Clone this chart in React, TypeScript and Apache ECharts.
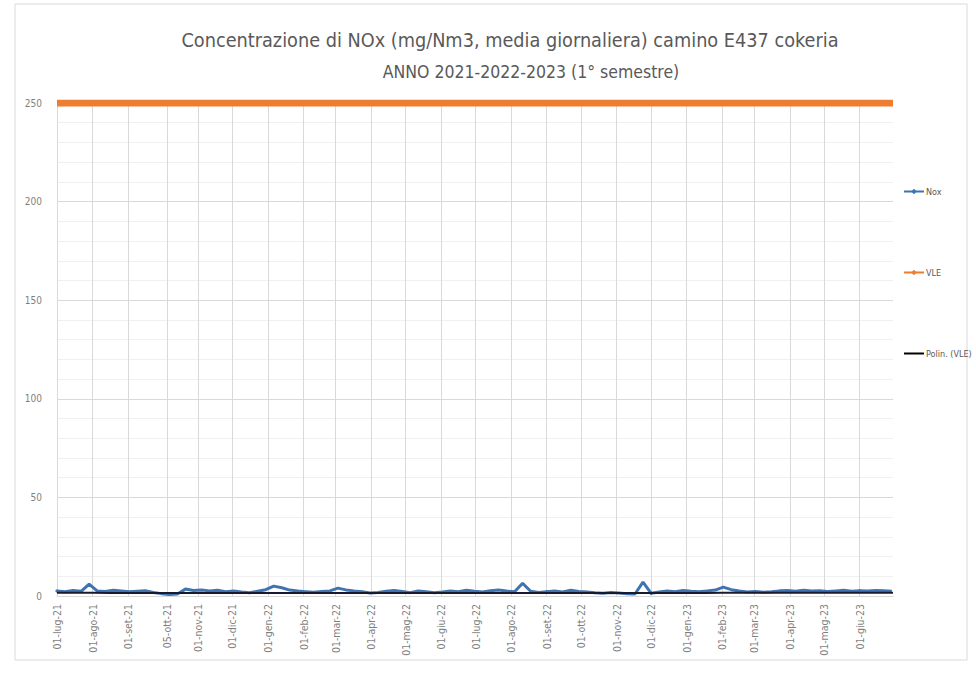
import React, { useEffect, useRef } from "react";
import * as echarts from "echarts";

const TITLE_1 = "Concentrazione di NOx (mg/Nm3, media giornaliera) camino E437 cokeria";
const TITLE_2 = "ANNO 2021-2022-2023 (1° semestre)";

const MONTHS_IT = ["gen", "feb", "mar", "apr", "mag", "giu", "lug", "ago", "set", "ott", "nov", "dic"];
const START_YEAR = 2021;
const START_MONTH = 6; // luglio
const DAY_COUNT = 730;

const TICK_LABELS = [
  "01-lug-21", "01-ago-21", "01-set-21", "05-ott-21", "01-nov-21", "01-dic-21",
  "01-gen-22", "01-feb-22", "01-mar-22", "01-apr-22", "01-mag-22", "01-giu-22",
  "01-lug-22", "01-ago-22", "01-set-22", "01-ott-22", "01-nov-22", "01-dic-22",
  "01-gen-23", "01-feb-23", "01-mar-23", "01-apr-23", "01-mag-23", "01-giu-23",
];

const Y_TICKS = [0, 50, 100, 150, 200, 250];

// NOx, one reading per week (starting 01-lug-21), mg/Nm3
const NOX_WEEKLY = [
  2.5, 2.2, 2.8, 2.4, 6.0, 2.6, 2.3, 2.9, 2.5, 2.1,
  2.4, 2.7, 1.8, 1.2, 0.8, 1.0, 3.5, 2.8, 3.0, 2.6,
  2.9, 2.2, 2.5, 2.0, 1.6, 2.4, 3.2, 5.0, 4.2, 3.0,
  2.5, 2.2, 1.9, 2.3, 2.6, 4.0, 3.1, 2.6, 2.2, 1.5,
  1.8, 2.4, 2.8, 2.3, 1.7, 2.6, 2.1, 1.6, 2.0, 2.5,
  2.2, 2.9, 2.4, 2.0, 2.7, 3.0, 2.5, 2.2, 6.5, 2.4,
  1.8, 2.2, 2.6, 2.0, 2.9, 2.3, 2.0, 1.6, 1.4, 1.8,
  1.5, 1.2, 1.0, 7.0, 1.4, 2.0, 2.5, 2.2, 2.8, 2.4,
  2.1, 2.6, 3.0, 4.5, 3.2, 2.5, 2.0, 2.3, 1.9, 2.2,
  2.6, 2.8, 2.4, 2.9, 2.5, 2.7, 2.3, 2.6, 2.9, 2.4,
  2.7, 2.5, 2.8, 2.6, 2.4,
];

// VLE (limit value), constant
const VLE_VALUE = 250;

// Polynomial trend line, one value per month start
const TREND_MONTHLY = [
  1.6, 1.6, 1.5, 1.5, 1.5, 1.5, 1.5, 1.5, 1.5, 1.5, 1.5, 1.5,
  1.5, 1.5, 1.5, 1.5, 1.5, 1.5, 1.5, 1.6, 1.6, 1.6, 1.7, 1.7, 1.7,
];

function pad2(n: number) {
  return n < 10 ? "0" + n : String(n);
}
function fmtDay(i: number) {
  const d = new Date(Date.UTC(START_YEAR, START_MONTH, 1 + i));
  return pad2(d.getUTCDate()) + "-" + MONTHS_IT[d.getUTCMonth()] + "-" + String(d.getUTCFullYear()).slice(2);
}

const FONT = "'Liberation Sans Narrow', 'DejaVu Sans Condensed', 'Open Sans', sans-serif";

export default function App() {
  const ref = useRef<HTMLDivElement>(null);
  useEffect(() => {
    if (!ref.current) return;
    const chart = echarts.init(ref.current, undefined, { renderer: "svg" });

    const categories: string[] = [];
    for (let i = 0; i < DAY_COUNT; i++) categories.push(fmtDay(i));

    const noxData = NOX_WEEKLY.map((v, w) => [categories[Math.min(w * 7, DAY_COUNT - 1)], v]);
    const vleData = categories.map((c) => [c, VLE_VALUE]);
    const trendData = TREND_MONTHLY.map((v, m) => {
      const d = new Date(Date.UTC(START_YEAR, START_MONTH + m, 1));
      const idx = Math.min(
        Math.round((d.getTime() - Date.UTC(START_YEAR, START_MONTH, 1)) / 86400000),
        DAY_COUNT - 1
      );
      return [categories[idx], v];
    });

    const showTick = (_i: number, v: string) => TICK_LABELS.indexOf(v) >= 0;

    chart.setOption({
      animation: false,
      backgroundColor: "#ffffff",
      graphic: [
        {
          type: "rect",
          shape: { x: 15, y: 4, width: 952, height: 656 },
          style: { fill: "none", stroke: "#d9d9d9", lineWidth: 1 },
          silent: true,
          z: -1,
        },
        {
          type: "text",
          x: 510,
          y: 40,
          style: {
            text: TITLE_1,
            fill: "#595959",
            font: "19.7px " + FONT,
            textAlign: "center",
            textVerticalAlign: "middle",
          },
        },
        {
          type: "text",
          x: 531,
          y: 72,
          style: {
            text: TITLE_2,
            fill: "#595959",
            font: "17.5px " + FONT,
            textAlign: "center",
            textVerticalAlign: "middle",
          },
        },
      ],
      legend: {
        orient: "vertical",
        left: 898,
        top: 182,
        itemGap: 72,
        itemWidth: 20,
        itemHeight: 7,
        textStyle: { color: "#595959", fontSize: 9, fontFamily: FONT, padding: [0, 0, 0, -3] },
        data: [
          { name: "Nox" },
          { name: "VLE" },
          { name: "Polin. (VLE)", icon: "path://M0,0 L20,0 L20,2 L0,2 Z" },
        ],
      },
      grid: { left: 57, right: 83, top: 103, bottom: 91, containLabel: false },
      xAxis: {
        type: "category",
        data: categories,
        boundaryGap: false,
        axisLine: { show: true, lineStyle: { color: "#d9d9d9" } },
        axisTick: { show: false },
        axisLabel: {
          interval: showTick,
          rotate: 90,
          color: "#7f7f7f",
          fontSize: 10.5,
          fontFamily: FONT,
          margin: 8,
        },
        splitLine: { show: true, interval: showTick, lineStyle: { color: "#d9d9d9", width: 1 } },
      },
      yAxis: {
        type: "value",
        min: Y_TICKS[0],
        max: Y_TICKS[Y_TICKS.length - 1],
        interval: 50,
        axisLine: { show: false },
        axisTick: { show: false },
        axisLabel: { color: "#7f7f7f", fontSize: 10, fontFamily: FONT, margin: 15 },
        splitLine: { lineStyle: { color: "#d9d9d9" } },
        minorTick: { show: false, splitNumber: 5 },
        minorSplitLine: { show: true, lineStyle: { color: "#f0f0f0" } },
      },
      series: [
        {
          name: "Nox",
          type: "line",
          data: noxData,
          symbol: "diamond",
          symbolSize: 4,
          showSymbol: true,
          itemStyle: { color: "#3f74b0" },
          lineStyle: { color: "#3f74b0", width: 3 },
          z: 3,
        },
        {
          name: "VLE",
          type: "line",
          data: vleData,
          symbol: "diamond",
          symbolSize: 6,
          showSymbol: false,
          itemStyle: { color: "#ed7d31" },
          lineStyle: { color: "#ed7d31", width: 7 },
          z: 2,
        },
        {
          name: "Polin. (VLE)",
          type: "line",
          data: trendData,
          smooth: true,
          symbol: "none",
          itemStyle: { color: "#000000" },
          lineStyle: { color: "#1a1a2e", width: 2 },
          z: 4,
        },
      ],
    });
    return () => chart.dispose();
  }, []);
  return (
    <div
      ref={ref}
      style={{ position: "fixed", left: 0, top: 0, width: 976, height: 687 }}
    />
  );
}
